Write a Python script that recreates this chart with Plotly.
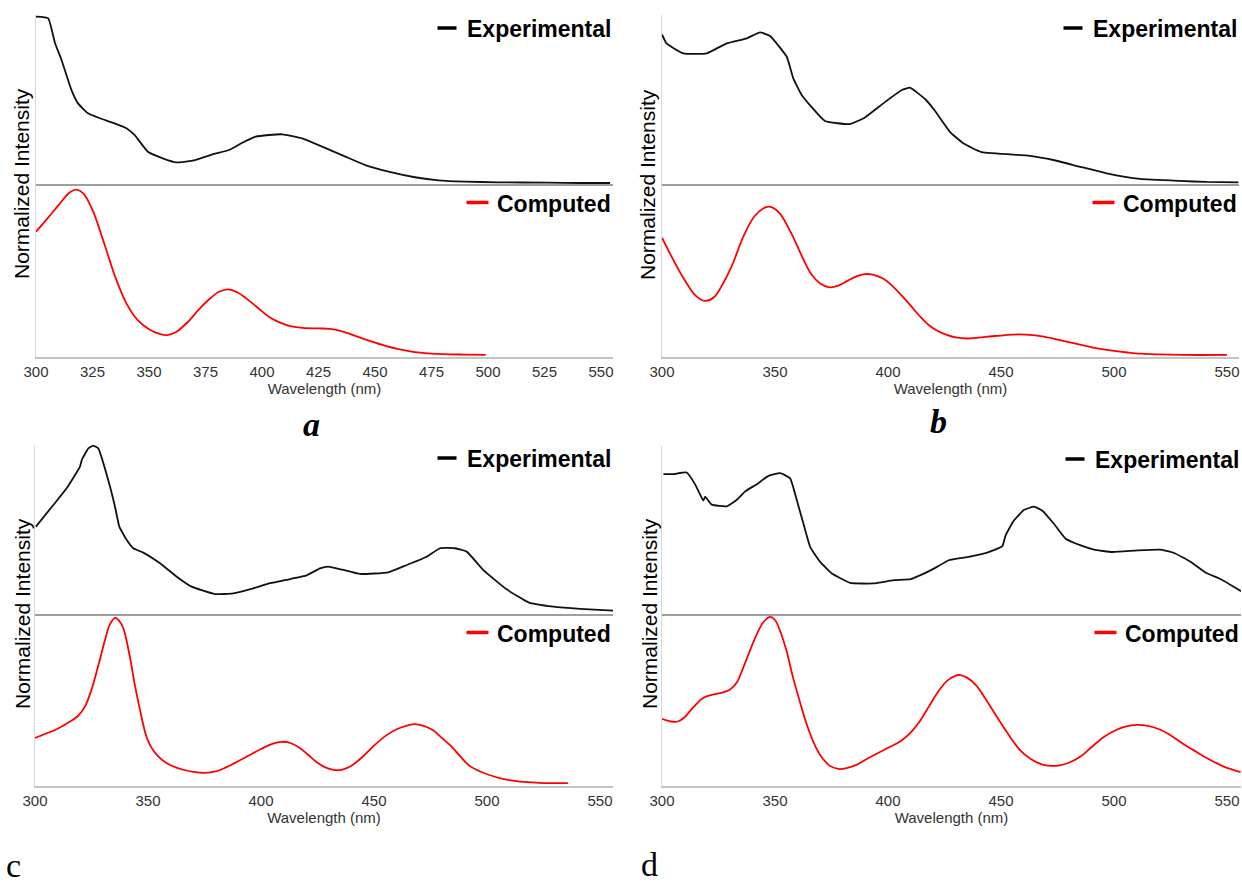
import plotly.graph_objects as go

W, H = 1242, 885

# ---------------- spectra: wavelength (nm) and normalized intensity ----------------
# panel a
a_exp_nm = [300, 305.4, 308.4, 311.3, 315.7, 318.6, 323, 328.2, 334.8, 340, 343.6, 349.5, 356.1,
            362, 369.3, 378.1, 385.5, 391.3, 397.2, 403.1, 409, 417.8, 426.6, 436.9, 445.7, 456,
            467.7, 478, 489.7, 504.4, 526.4, 541, 554]
a_exp_int = [0.99, 0.98, 0.834, 0.734, 0.556, 0.477, 0.418, 0.389, 0.359, 0.33, 0.29, 0.191, 0.152,
             0.128, 0.138, 0.176, 0.201, 0.244, 0.28, 0.29, 0.294, 0.27, 0.221, 0.162, 0.112, 0.073,
             0.04, 0.022, 0.014, 0.01, 0.008, 0.006, 0.006]
a_calc_nm = [300, 305, 310, 315, 318, 321, 325, 330, 335, 340, 345, 350, 355, 358, 362, 367, 372, 377,
             381, 385, 389, 393, 398, 403, 408, 413, 418, 425, 430, 435, 440, 445, 450, 455, 460, 465,
             470, 475, 480, 490, 499]
a_calc_int = [0.724, 0.8, 0.878, 0.952, 0.967, 0.945, 0.85, 0.663, 0.465, 0.31, 0.213, 0.161, 0.132,
              0.127, 0.145, 0.2, 0.274, 0.338, 0.377, 0.391, 0.374, 0.339, 0.286, 0.233, 0.199, 0.177,
              0.168, 0.165, 0.163, 0.15, 0.128, 0.105, 0.083, 0.063, 0.047, 0.034, 0.025, 0.02, 0.017,
              0.014, 0.012]

# panel b
b_exp_nm = [300, 302, 309.4, 319.8, 328.6, 337.5, 343.4, 347.8, 355.2, 358.1, 361.8, 372.1, 383.2,
            389.8, 397.9, 406.1, 409.7, 416.4, 420.5, 427.4, 433.3, 441.5, 462.8, 473.2, 485, 496.8,
            511.5, 529.2, 541, 555]
b_exp_int = [0.885, 0.832, 0.773, 0.773, 0.832, 0.862, 0.897, 0.876, 0.753, 0.625, 0.527, 0.373, 0.355,
             0.394, 0.477, 0.556, 0.57, 0.503, 0.438, 0.309, 0.241, 0.188, 0.167, 0.142, 0.102, 0.063,
             0.03, 0.018, 0.012, 0.01]
b_calc_nm = [300, 305, 310, 315, 319, 323, 327, 331, 336, 341, 346, 348, 352, 357, 362, 366, 370, 374,
             378, 382, 386, 389, 392, 395, 398, 402, 406, 410, 414, 418, 422, 426, 430, 435, 440, 446,
             452, 458, 464, 470, 476, 482, 488, 494, 500, 506, 512, 520, 530, 550]
b_calc_int = [0.69, 0.561, 0.445, 0.353, 0.324, 0.345, 0.425, 0.53, 0.696, 0.815, 0.866, 0.868, 0.832,
              0.72, 0.58, 0.48, 0.425, 0.403, 0.412, 0.44, 0.466, 0.478, 0.479, 0.469, 0.452, 0.41,
              0.356, 0.297, 0.237, 0.185, 0.15, 0.128, 0.113, 0.107, 0.112, 0.12, 0.127, 0.131, 0.127,
              0.115, 0.098, 0.08, 0.063, 0.047, 0.035, 0.026, 0.019, 0.015, 0.012, 0.012]

# panel c
c_exp_nm = [300.4, 308.1, 314, 319.9, 320.7, 323.6, 325.8, 328, 332.4, 335.4, 337.3, 340.6, 343.5,
            347.9, 355.3, 362.7, 369.3, 379.6, 387.7, 396.6, 404, 412.8, 420.2, 426.1, 429.8, 436,
            443.8, 456.4, 464.5, 473.3, 479.2, 485.8, 491, 498.4, 508.7, 518.6, 529.3, 541.2, 555.9]
c_exp_int = [0.517, 0.645, 0.744, 0.872, 0.911, 0.98, 0.996, 0.98, 0.793, 0.635, 0.517, 0.438, 0.389,
             0.363, 0.3, 0.221, 0.162, 0.118, 0.122, 0.152, 0.182, 0.207, 0.229, 0.27, 0.28, 0.262,
             0.237, 0.247, 0.29, 0.339, 0.389, 0.389, 0.369, 0.26, 0.146, 0.067, 0.043, 0.03, 0.02]
c_calc_nm = [300, 305, 310, 315, 319, 322, 325, 328, 331, 333, 335.4, 337, 339, 342, 344, 346.5, 349,
             351, 354, 358, 362, 366, 370, 375, 380, 384, 390, 395, 400, 405, 409, 413, 417, 421, 425,
             429, 433, 436, 440, 445, 450, 455, 460, 465, 468, 472, 476, 480, 484, 488, 492, 496, 501,
             506, 512, 518, 525, 535.8]
c_calc_int = [0.279, 0.305, 0.333, 0.37, 0.407, 0.46, 0.56, 0.7, 0.85, 0.935, 0.977, 0.965, 0.92, 0.75,
              0.6, 0.44, 0.3, 0.235, 0.18, 0.135, 0.11, 0.093, 0.082, 0.076, 0.085, 0.105, 0.145, 0.18,
              0.215, 0.245, 0.257, 0.25, 0.222, 0.18, 0.135, 0.105, 0.092, 0.095, 0.118, 0.17, 0.235,
              0.29, 0.33, 0.353, 0.36, 0.35, 0.325, 0.28, 0.233, 0.175, 0.12, 0.09, 0.064, 0.045, 0.03,
              0.022, 0.017, 0.017]

# panel d
d_exp_nm = [300.6, 305, 310.9, 314.6, 318.3, 319.1, 322, 328.7, 333.1, 336.8, 342, 347.1, 352.3, 356.7,
            359.7, 362.6, 365.6, 370, 375.2, 383.3, 393.7, 402.5, 410, 414.4, 420.3, 426.9, 435.1,
            443.9, 450.6, 452, 455.7, 460.1, 464.6, 468.3, 473.4, 478.6, 485.3, 491.2, 499.3, 510.4,
            520.7, 526.6, 534, 540.7, 547.3, 556.2]
d_exp_int = [0.833, 0.833, 0.842, 0.773, 0.675, 0.698, 0.651, 0.641, 0.68, 0.73, 0.773, 0.822, 0.838,
             0.807, 0.675, 0.537, 0.398, 0.31, 0.241, 0.185, 0.182, 0.201, 0.207, 0.231, 0.27, 0.32,
             0.339, 0.365, 0.404, 0.467, 0.556, 0.619, 0.639, 0.615, 0.537, 0.448, 0.408, 0.383, 0.369,
             0.379, 0.383, 0.363, 0.31, 0.245, 0.207, 0.136]
d_calc_nm = [300, 304, 307, 310, 314, 318, 322, 326, 330, 333, 336, 339, 342, 345, 347.9, 350, 352, 355,
             358, 361, 364, 367, 370, 374, 378, 382, 386, 391, 396, 401, 406, 410, 414, 418, 422, 426,
             430, 432, 435, 439, 443, 448, 453, 458, 463, 468, 472, 476, 480, 485, 490, 495, 500, 505,
             510, 515, 520, 525, 530, 535, 540, 545, 550, 556]
d_calc_int = [0.39, 0.375, 0.375, 0.4, 0.46, 0.51, 0.53, 0.541, 0.56, 0.6, 0.69, 0.79, 0.885, 0.955,
              0.983, 0.965, 0.91, 0.79, 0.63, 0.49, 0.36, 0.255, 0.18, 0.12, 0.099, 0.105, 0.123, 0.16,
              0.195, 0.228, 0.265, 0.31, 0.375, 0.46, 0.545, 0.61, 0.642, 0.645, 0.63, 0.585, 0.51,
              0.405, 0.305, 0.215, 0.158, 0.126, 0.117, 0.12, 0.135, 0.17, 0.225, 0.28, 0.32, 0.345,
              0.355, 0.35, 0.33, 0.295, 0.25, 0.21, 0.17, 0.135, 0.105, 0.081]

a_ticks = [300, 325, 350, 375, 400, 425, 450, 475, 500, 525, 550]
bcd_ticks = [300, 350, 400, 450, 500, 550]

panel_letters = ["<b><i>a</i></b>", "<b><i>b</i></b>", "c", "d"]
x_title = "Wavelength (nm)"
y_title = "Normalized Intensity"
exp_name = "Experimental"
calc_name = "Computed"

# ---------------- layout geometry (pixels) ----------------
# letter: (x centre, y, vertical anchor)
panels = [
    dict(left=36, right=613, top=15, mid=184, bottom=357, ticks=a_ticks,
         exp=(a_exp_nm, a_exp_int), calc=(a_calc_nm, a_calc_int),
         ytitle=(21, 184), letter=(311, 424, "middle")),
    dict(left=662, right=1239, top=15, mid=184, bottom=357, ticks=bcd_ticks,
         exp=(b_exp_nm, b_exp_int), calc=(b_calc_nm, b_calc_int),
         ytitle=(648, 185), letter=(938, 422, "middle")),
    dict(left=35, right=613, top=445, mid=614, bottom=786, ticks=bcd_ticks,
         exp=(c_exp_nm, c_exp_int), calc=(c_calc_nm, c_calc_int),
         ytitle=(22, 614), letter=(13, 885, "bottom")),
    dict(left=662, right=1241, top=446, mid=614, bottom=786, ticks=bcd_ticks,
         exp=(d_exp_nm, d_exp_int), calc=(d_calc_nm, d_calc_int),
         ytitle=(649, 614), letter=(649, 884, "bottom")),
]
PX_PER_NM = 2.26


def fx(p):
    return p / W


def fy(p):
    return 1 - p / H


fig = go.Figure()
layout = dict(
    width=W, height=H, autosize=False,
    margin=dict(l=0, r=0, t=0, b=0, pad=0, autoexpand=False),
    paper_bgcolor="white", plot_bgcolor="white",
    showlegend=False,
    font=dict(family="Liberation Sans, Arial, sans-serif", color="#000"),
)
annotations = []
shapes = []

for i, p in enumerate(panels):
    up, lo = 2 * i + 1, 2 * i + 2
    xmax = 300 + (p["right"] - p["left"]) / PX_PER_NM
    xdom = [fx(p["left"]), fx(p["right"])]

    # upper: experimental spectrum
    layout[f"xaxis{up}"] = dict(
        domain=xdom, anchor=f"y{up}", range=[300, xmax], showgrid=False, zeroline=False,
        showline=True, linecolor="#9e9e9e", linewidth=1.5, showticklabels=False, ticks="",
        automargin=False)
    layout[f"yaxis{up}"] = dict(
        domain=[fy(p["mid"]), fy(p["top"])], anchor=f"x{up}", range=[0, 1], showgrid=False,
        zeroline=False, showline=True, linecolor="#d9d9d9", linewidth=1, showticklabels=False,
        ticks="", automargin=False)
    # lower: computed spectrum with the wavelength axis
    layout[f"xaxis{lo}"] = dict(
        domain=xdom, anchor=f"y{lo}", range=[300, xmax], showgrid=False, zeroline=False,
        showline=True, linecolor="#c4c4c4", linewidth=1.5, ticks="", tickvals=p["ticks"],
        tickfont=dict(size=15, color="#333"), automargin=False,
        title=dict(text=x_title, font=dict(size=15, color="#333"), standoff=5))
    layout[f"yaxis{lo}"] = dict(
        domain=[fy(p["bottom"]), fy(p["mid"])], anchor=f"x{lo}", range=[0, 1], showgrid=False,
        zeroline=False, showline=True, linecolor="#d9d9d9", linewidth=1, showticklabels=False,
        ticks="", automargin=False)

    fig.add_trace(go.Scatter(x=p["exp"][0], y=p["exp"][1], mode="lines", name=exp_name,
                             line=dict(color="#111", width=1.8, shape="spline", smoothing=0.4),
                             xaxis=f"x{up}", yaxis=f"y{up}"))
    fig.add_trace(go.Scatter(x=p["calc"][0], y=p["calc"][1], mode="lines", name=calc_name,
                             line=dict(color="#ff0000", width=1.8, shape="spline", smoothing=1.0),
                             xaxis=f"x{lo}", yaxis=f"y{lo}"))

    # key entries: short coloured dash followed by bold label
    text_right = p["right"] - 1.5
    for label, color, ypx, d0, d1 in [
        (exp_name, "#000", p["top"] + 13, 174, 155),
        (calc_name, "#ff0000", p["mid"] + 18.5, 145, 123),
    ]:
        shapes.append(dict(type="line", xref="paper", yref="paper",
                           x0=fx(text_right - d0), x1=fx(text_right - d1),
                           y0=fy(ypx), y1=fy(ypx), line=dict(color=color, width=3.5)))
        annotations.append(dict(text=f"<b>{label}</b>", xref="paper", yref="paper",
                                x=fx(text_right), y=fy(ypx + 1), xanchor="right",
                                yanchor="middle", showarrow=False,
                                font=dict(size=23, color="#000"), borderpad=0))

    annotations.append(dict(text=y_title, xref="paper", yref="paper",
                            x=fx(p["ytitle"][0]), y=fy(p["ytitle"][1]), textangle=-90,
                            xanchor="center", yanchor="middle", showarrow=False,
                            font=dict(size=21, color="#000")))
    lx, ly, lanchor = p["letter"]
    annotations.append(dict(text=panel_letters[i], xref="paper", yref="paper",
                            x=fx(lx), y=fy(ly), xanchor="center", yanchor=lanchor,
                            showarrow=False, borderpad=0,
                            font=dict(size=34, color="#000",
                                      family="Liberation Serif, Times New Roman, serif")))

layout["annotations"] = annotations
layout["shapes"] = shapes
fig.update_layout(**layout)
fig.write_html("out.html")
